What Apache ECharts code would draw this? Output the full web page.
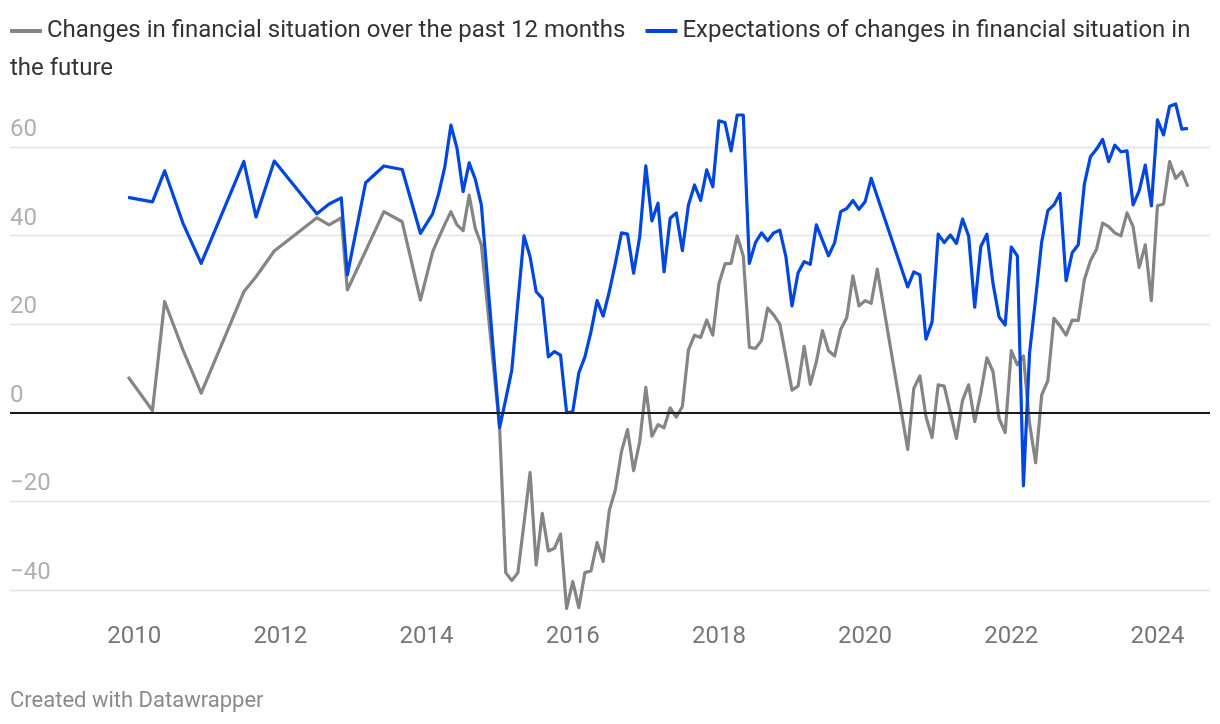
<!DOCTYPE html>
<html>
<head>
<meta charset="utf-8">
<script src="https://cdn.jsdelivr.net/npm/echarts@6/dist/echarts.min.js"></script>
<style>
html,body{margin:0;padding:0;background:#fff;}
#chart{width:1220px;height:724px;}
</style>
</head>
<body>
<div id="chart"></div>
<script>
const seriesNames = [
  'Changes in financial situation over the past 12 months',
  'Expectations of changes in financial situation in the future'
];
const legendFirstLine = 'Expectations of changes in financial situation in';
const legendSecondLine = 'the future';
const credit = 'Created with Datawrapper';

const dates = [
  '2009-12','2010-04','2010-06','2010-09','2010-12','2011-07','2011-09','2011-12',
  '2012-07','2012-09','2012-11','2012-12','2013-03','2013-06','2013-09','2013-12',
  '2014-02','2014-03','2014-04','2014-05','2014-06','2014-07','2014-08','2014-09','2014-10',
  '2015-01','2015-02','2015-03','2015-04','2015-05','2015-06','2015-07','2015-08','2015-09','2015-10','2015-11','2015-12',
  '2016-01','2016-02','2016-03','2016-04','2016-05','2016-06','2016-07','2016-08','2016-09','2016-10','2016-11','2016-12',
  '2017-01','2017-02','2017-03','2017-04','2017-05','2017-06','2017-07','2017-08','2017-09','2017-10','2017-11','2017-12',
  '2018-01','2018-02','2018-03','2018-04','2018-05','2018-06','2018-07','2018-08','2018-09','2018-10','2018-11','2018-12',
  '2019-01','2019-02','2019-03','2019-04','2019-05','2019-06','2019-07','2019-08','2019-09','2019-10','2019-11','2019-12',
  '2020-01','2020-02','2020-03','2020-08','2020-09','2020-10','2020-11','2020-12',
  '2021-01','2021-02','2021-03','2021-04','2021-05','2021-06','2021-07','2021-08','2021-09','2021-10','2021-11','2021-12',
  '2022-01','2022-02','2022-03','2022-04','2022-05','2022-06','2022-07','2022-08','2022-09','2022-10','2022-11','2022-12',
  '2023-01','2023-02','2023-03','2023-04','2023-05','2023-06','2023-07','2023-08','2023-09','2023-10','2023-11','2023-12',
  '2024-01','2024-02','2024-03','2024-04','2024-05','2024-06'
];

const pastValues = [
  8.1, 0.5, 25.1, 14.2, 4.4, 27.3, 30.7, 36.5,
  44.0, 42.4, 44.0, 27.7, 36.5, 45.4, 43.1, 25.4,
  36.3, 39.5, 42.5, 45.4, 42.4, 41.1, 49.1, 41.6, 37.9,
  -3.5, -36.1, -37.9, -36.1, -25.0, -13.5, -34.4, -22.7, -31.2, -30.6, -27.4, -44.2,
  -38.1, -44.0, -36.1, -35.7, -29.3, -33.6, -22.1, -17.4, -8.8, -3.8, -13.1, -6.5,
  5.7, -5.3, -2.7, -3.4, 1.1, -1.0, 1.4, 14.2, 17.5, 17.0, 20.9, 17.5,
  29.1, 33.6, 33.7, 39.9, 35.4, 14.8, 14.5, 16.3, 23.6, 22.1, 20.0, 12.6,
  5.1, 6.0, 15.0, 6.4, 11.5, 18.5, 14.0, 12.8, 18.8, 21.5, 30.9, 24.1,
  25.3, 24.7, 32.4, -8.3, 5.5, 8.3, -0.9, -5.6,
  6.3, 6.0, 0.0, -5.8, 2.8, 6.3, -2.0, 4.5, 12.4, 9.3, -1.3, -4.5,
  14.0, 10.8, 12.8, -2.4, -11.3, 4.0, 7.2, 21.3, 19.6, 17.5, 20.9, 20.8,
  30.0, 34.3, 36.9, 42.8, 42.0, 40.6, 39.9, 45.1, 42.0, 32.8, 37.9, 25.3,
  46.7, 47.1, 56.7, 52.9, 54.4, 51.0
];

const futureValues = [
  48.6, 47.6, 54.6, 42.8, 33.7, 56.7, 44.2, 56.8,
  44.9, 47.1, 48.5, 31.1, 51.9, 55.7, 54.9, 40.5,
  44.9, 49.5, 55.5, 64.9, 59.7, 49.9, 56.4, 52.7, 46.9,
  -3.3, 3.0, 9.6, 25.0, 39.9, 35.2, 27.3, 25.8, 12.6, 13.8, 13.0, 0.0,
  0.2, 9.0, 12.6, 18.3, 25.3, 21.8, 27.3, 33.7, 40.6, 40.3, 31.5, 39.7,
  55.7, 43.3, 47.3, 31.8, 43.9, 45.1, 36.6, 46.9, 51.4, 47.9, 54.8, 51.0,
  65.9, 65.5, 59.1, 67.2, 67.2, 33.7, 38.4, 40.6, 38.8, 40.6, 41.2, 35.2,
  24.1, 31.6, 34.1, 33.5, 42.4, 38.9, 35.4, 38.4, 45.4, 46.1, 47.9, 45.9,
  47.6, 52.9, 48.8, 28.4, 31.8, 31.1, 16.6, 20.5,
  40.3, 38.4, 40.1, 38.2, 43.7, 39.9, 23.8, 37.5, 40.3, 29.2, 21.6, 19.8,
  37.4, 35.4, -16.5, 13.4, 25.8, 38.6, 45.6, 46.9, 49.5, 29.8, 36.1, 37.9,
  51.6, 57.8, 59.5, 61.7, 56.7, 60.4, 58.9, 59.1, 46.9, 50.1, 55.9, 46.7,
  66.1, 62.7, 69.2, 69.7, 64.0, 64.2
];

const yTicks = [-40, -20, 0, 20, 40, 60];
const xTickYears = [2010, 2012, 2014, 2016, 2018, 2020, 2022, 2024];
const xRangeYears = [2008.301, 2024.719];

// "YYYY-MM" -> decimal year at the start of the month
function toYear(s) {
  const p = s.split('-');
  return +p[0] + (+p[1] - 1) / 12;
}

const pastData = dates.map((d, i) => [toYear(d), pastValues[i]]);
const futureData = dates.map((d, i) => [toYear(d), futureValues[i]]);

const FONT = 'Roboto';
const chart = echarts.init(document.getElementById('chart'), null, {renderer: 'canvas'});

chart.setOption({
  animation: false,
  backgroundColor: '#ffffff',
  textStyle: {fontFamily: FONT},
  legend: {
    left: 10,
    top: 19,
    padding: 0,
    icon: 'roundRect',
    itemWidth: 32,
    itemHeight: 4,
    itemGap: 20,
    textStyle: {fontFamily: FONT, fontSize: 24, color: '#333333'},
    formatter: function (name) { return name === seriesNames[1] ? legendFirstLine : name; },
    data: seriesNames
  },
  graphic: [
    {type: 'text', left: 10, top: 57, style: {text: legendSecondLine, fontFamily: FONT, fontSize: 24, fill: '#333333'}},
    {type: 'text', left: 10, top: 690, style: {text: credit, fontFamily: FONT, fontSize: 22, fill: '#8a8a8a'}}
  ],
  grid: {left: 10, right: 10, top: 146.9, bottom: 134.1, containLabel: false},
  xAxis: {
    type: 'value',
    min: xRangeYears[0],
    max: xRangeYears[1],
    axisLine: {show: false, onZero: false},
    axisTick: {show: false},
    splitLine: {show: false},
    axisLabel: {
      customValues: xTickYears,
      formatter: function (v) { return String(Math.round(v)); },
      fontFamily: FONT,
      fontSize: 24,
      color: '#767676',
      margin: 35
    }
  },
  yAxis: {
    type: 'value',
    min: yTicks[0],
    max: yTicks[yTicks.length - 1],
    interval: 20,
    axisLine: {show: false},
    axisTick: {show: false},
    splitLine: {show: true, lineStyle: {color: '#e3e3e3', width: 1.3}},
    axisLabel: {
      inside: true,
      margin: 0,
      align: 'left',
      verticalAlign: 'bottom',
      padding: [0, 0, 5, 0],
      fontFamily: FONT,
      fontSize: 24,
      color: '#b0b0b0',
      formatter: function (v) { return v < 0 ? '\u2212' + Math.abs(v) : String(v); }
    }
  },
  series: [
    {
      name: seriesNames[0],
      type: 'line',
      data: pastData,
      symbol: 'none',
      clip: false,
      color: '#858585',
      lineStyle: {width: 3.2, color: '#858585', join: 'round'},
      markLine: {
        silent: true,
        symbol: 'none',
        label: {show: false},
        lineStyle: {color: '#1a1a1a', width: 2, type: 'solid'},
        data: [{yAxis: 0}]
      }
    },
    {
      name: seriesNames[1],
      type: 'line',
      data: futureData,
      symbol: 'none',
      clip: false,
      color: '#0046e0',
      lineStyle: {width: 3.2, color: '#0046e0', join: 'round'}
    }
  ]
});
</script>
</body>
</html>
